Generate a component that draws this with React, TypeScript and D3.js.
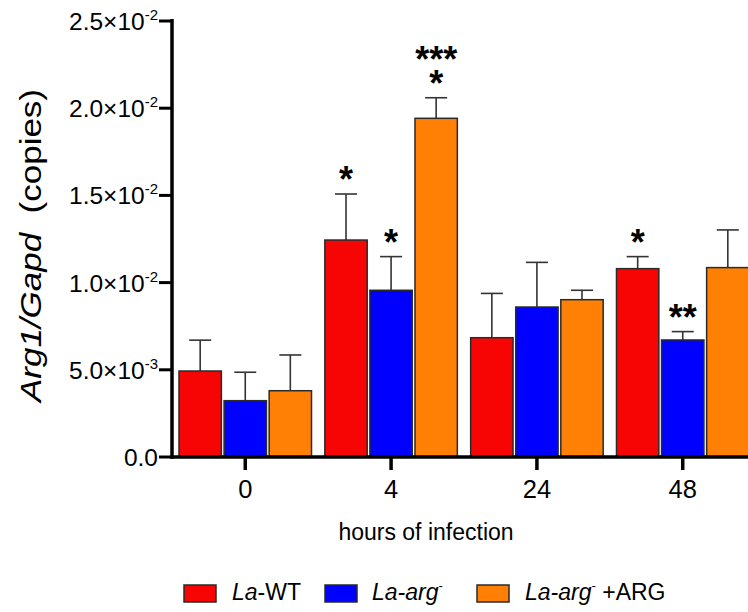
import * as d3 from 'd3'

// hours of infection
const hours = ['0', '4', '24', '48']

const seriesKeys = ['wt', 'argMinus', 'argPlus']
const seriesColors = ['#f70505', '#0000ff', '#ff8005']

// Arg1/Gapd copies, mean and SEM per time point
const wtMean = [0.00493, 0.01244, 0.00684, 0.0108]
const wtSem = [0.00177, 0.00264, 0.00254, 0.00069]
const argMinusMean = [0.00323, 0.00956, 0.0086, 0.00671]
const argMinusSem = [0.00163, 0.00193, 0.00256, 0.00048]
const argPlusMean = [0.0038, 0.01942, 0.00902, 0.01086]
const argPlusSem = [0.00205, 0.00118, 0.00054, 0.00216]

// significance marks, top line first
const wtStars = [[], ['*'], [], ['*']]
const argMinusStars = [[], ['*'], [], ['**']]
const argPlusStars = [[], ['***', '*'], [], []]

const yTicks = [0, 0.005, 0.01, 0.015, 0.02, 0.025]
const yTickMantissa = ['0.0', '5.0', '1.0', '1.5', '2.0', '2.5']
const yTickExponent = ['', '-3', '-2', '-2', '-2', '-2']

const means = [wtMean, argMinusMean, argPlusMean]
const sems = [wtSem, argMinusSem, argPlusSem]
const stars = [wtStars, argMinusStars, argPlusStars]

const W = 748
const H = 612
const font = '"Liberation Sans", Arial, Helvetica, sans-serif'
const axisX = 172
const y0 = 457
const starLine = 24

export default function App() {
  const y = d3.scaleLinear().domain([0, 0.025]).range([y0, 21])

  const x = d3
    .scaleBand<string>()
    .domain(hours)
    .range([axisX, 756])
    .paddingInner(0.0913)
    .paddingOuter(0.048)

  const xs = d3
    .scaleBand<string>()
    .domain(seriesKeys)
    .range([0, x.bandwidth()])
    .paddingInner(0.06)

  const bars = hours.flatMap((h, i) =>
    seriesKeys.map((k, s) => {
      const bx = (x(h) || 0) + (xs(k) || 0)
      const bw = xs.bandwidth()
      const cx = bx + bw / 2
      const top = y(means[s][i])
      const errTop = y(means[s][i] + sems[s][i])
      const lines = stars[s][i]
      return (
        <g key={h + k}>
          <line x1={cx} x2={cx} y1={top} y2={errTop} stroke="#333" strokeWidth={1.6} />
          <line x1={cx - 11} x2={cx + 11} y1={errTop} y2={errTop} stroke="#333" strokeWidth={1.6} />
          <rect
            x={bx}
            y={top}
            width={bw}
            height={y0 - top}
            fill={seriesColors[s]}
            stroke="#2a2a2a"
            strokeWidth={1.5}
          />
          {lines.length > 0 && (
            <text
              x={cx}
              y={errTop - 2 - (lines.length - 1) * starLine}
              textAnchor="middle"
              fontSize={36}
              fontWeight="bold"
              fontFamily={font}
              fill="#000"
            >
              {lines.map((st, j) => (
                <tspan key={j} x={cx} dy={j === 0 ? 0 : starLine}>
                  {st}
                </tspan>
              ))}
            </text>
          )}
        </g>
      )
    }),
  )

  const legendItems = [
    { sx: 184, tx: 232, parts: [['La', true], ['-WT', false]] },
    { sx: 325, tx: 372, parts: [['La-arg', true], ['sup', false]] },
    { sx: 477, tx: 525, parts: [['La-arg', true], ['sup', false], [' +ARG', false]] },
  ]

  return (
    <svg
      width={W}
      height={H}
      style={{ position: 'absolute', left: 0, top: 0, background: '#fff' }}
      fontFamily={font}
    >
      {bars}

      {/* y axis */}
      <line x1={axisX} x2={axisX} y1={19} y2={y0 + 1.75} stroke="#000" strokeWidth={3.5} />
      {yTicks.map((t, i) => (
        <g key={t}>
          <line x1={159} x2={axisX} y1={y(t)} y2={y(t)} stroke="#000" strokeWidth={3} />
          <text x={158} y={y(t) + 9} textAnchor="end" fontSize={24.5} fill="#000">
            {yTickMantissa[i]}
            {yTickExponent[i] && (
              <>
                <tspan>×10</tspan>
                <tspan fontSize={15} dy={-10}>
                  {yTickExponent[i]}
                </tspan>
              </>
            )}
          </text>
        </g>
      ))}

      {/* x axis */}
      <line x1={axisX - 1.75} x2={W} y1={y0} y2={y0} stroke="#000" strokeWidth={3.5} />
      {hours.map((h) => {
        const cx = (x(h) || 0) + x.bandwidth() / 2
        return (
          <g key={h}>
            <line x1={cx} x2={cx} y1={y0} y2={470} stroke="#000" strokeWidth={3.5} />
            <text x={cx} y={498} textAnchor="middle" fontSize={25.5} fill="#000">
              {h}
            </text>
          </g>
        )
      })}

      <text x={426} y={540} textAnchor="middle" fontSize={23} fill="#000">
        hours of infection
      </text>

      <text
        transform="translate(41,245.5) rotate(-90)"
        textAnchor="middle"
        fontSize={29}
        fill="#000"
        textLength={313}
        lengthAdjust="spacingAndGlyphs"
      >
        <tspan fontStyle="italic">Arg1/Gapd</tspan>
        <tspan>{'\u00a0\u00a0(copies)'}</tspan>
      </text>

      {/* legend */}
      {legendItems.map((it, i) => (
        <g key={i}>
          <rect x={it.sx} y={585} width={32} height={17} fill={seriesColors[i]} stroke="#2a2a2a" strokeWidth={1.5} />
          <text x={it.tx} y={600} fontSize={23} fill="#000">
            {it.parts.map(([p, ital], j) =>
              p === 'sup' ? (
                <tspan key={j} fontSize={13} dy={-10}>
                  -
                </tspan>
              ) : (
                <tspan key={j} fontStyle={ital ? 'italic' : 'normal'} dy={j > 0 && it.parts[j - 1][0] === 'sup' ? 10 : 0}>
                  {p}
                </tspan>
              ),
            )}
          </text>
        </g>
      ))}
    </svg>
  )
}
